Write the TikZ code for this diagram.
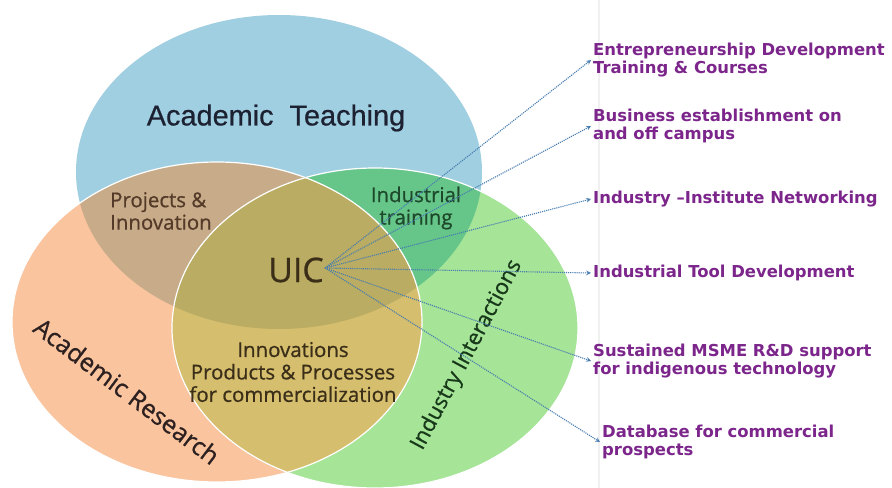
\documentclass[tikz,border=0pt]{standalone}
\usepackage{fontspec}
\setmainfont{Open Sans}
\newfontfamily\labelfont{Open Sans}[FakeBold=0.7]
\newfontfamily\titlefont{Liberation Sans}[FakeBold=0.6]
\newfontfamily\itemfont{DejaVu Sans}
\usepackage{tikz}
\usetikzlibrary{positioning,arrows}

\definecolor{teachblue}{RGB}{160,207,225}
\definecolor{researchorange}{RGB}{249,196,158}
\definecolor{industrygreen}{RGB}{166,228,152}
\definecolor{projtan}{RGB}{200,172,138}
\definecolor{traingreen}{RGB}{102,198,138}
\definecolor{innovmustard}{RGB}{213,190,110}
\definecolor{uicolive}{RGB}{186,172,98}
\definecolor{itempurple}{RGB}{124,38,140}
\definecolor{linkblue}{RGB}{70,124,176}
\definecolor{titleink}{RGB}{28,34,50}
\definecolor{labelink}{RGB}{58,46,24}

\begin{document}
\begin{tikzpicture}[
x=1bp, y=-1bp,
teach/.style={x radius=203, y radius=157},
research/.style={x radius=205, y radius=160},
industry/.style={x radius=203, y radius=160},
rim/.style={draw=white, line width=1.2bp},
label/.style={font=\labelfont\fontsize{20.5}{22.5}\selectfont, text=labelink, align=center, inner sep=0pt},
item/.style={anchor=west, align=left, inner sep=2pt, text=itempurple,
	font=\itemfont\bfseries\fontsize{16.5}{18.5}\selectfont},
link/.style={-stealth, densely dotted, line width=1.1bp, draw=linkblue}
]
\useasboundingbox (0,0) rectangle (892,488);
\fill[white] (0,0) rectangle (892,488);
\draw[gray!12, line width=1.5bp] (599,0) -- (599,488);

\coordinate (tc) at (279,172);
\coordinate (rc) at (217,322);
\coordinate (ic) at (375,328);

% the three circles
\fill[teachblue] (tc) ellipse [teach];
\fill[researchorange] (rc) ellipse [research];
\fill[industrygreen] (ic) ellipse [industry];
% overlaps
\begin{scope}
	\clip (tc) ellipse [teach];
	\fill[projtan] (rc) ellipse [research];
	\fill[traingreen] (ic) ellipse [industry];
\end{scope}
\begin{scope}
	\clip (rc) ellipse [research];
	\fill[innovmustard] (ic) ellipse [industry];
	\clip (tc) ellipse [teach];
	\fill[uicolive] (ic) ellipse [industry];
\end{scope}
\draw[rim] (rc) ellipse [research];
\draw[rim] (ic) ellipse [industry];

% labels
\node[font=\titlefont\fontsize{29}{30}\selectfont, text=titleink] (teaching) at (276,118) {Academic\hspace{.55em}Teaching};
\node[label, anchor=west, align=left, text={rgb,255:red,84;green,58;blue,40}] (projects) at (110,211) {Projects \&\\Innovation};
\node[label, text={rgb,255:red,30;green,72;blue,42}] (training) at (416,208) {Industrial\\training};
\node[label, font=\labelfont\fontsize{34}{36}\selectfont] (uic) at (296,270) {UIC};
\node[label] (innov) at (293,372) {Innovations\\Products \& Processes\\for commercialization};
\node[label, font=\labelfont\fontsize{25}{27}\selectfont, text={rgb,255:red,44;green,32;blue,32}, rotate=-37] (research) at (127,391) {Academic Research};
\node[label, font=\labelfont\fontsize{22}{24}\selectfont, text={rgb,255:red,24;green,56;blue,26}, rotate=62] (industry) at (467,355) {Industry Interactions};

% outcomes
\node[item] (out1) at (591,60) {Entrepreneurship Development\\Training \& Courses};
\node[item] (out2) at (591,126) {Business establishment on\\and off campus};
\node[item] (out3) at (591,199) {Industry –Institute Networking};
\node[item] (out4) at (591,273) {Industrial Tool Development};
\node[item] (out5) at (591,361) {Sustained MSME R\&D support\\for indigenous technology};
\node[item] (out6) at (600,442) {Database for commercial\\prospects};

\coordinate (hub) at (325,268);
\foreach \i in {1,...,6}
{
	\draw[link] (hub) -- (out\i.west);
}
\end{tikzpicture}
\end{document}
